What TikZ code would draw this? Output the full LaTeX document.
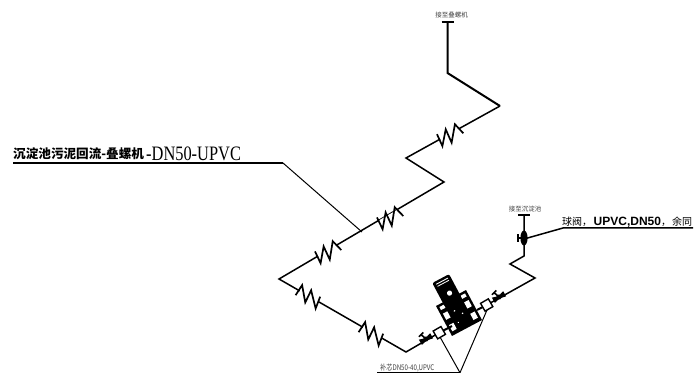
\documentclass[tikz,border=0pt]{standalone}
\usepackage{fontspec}
\usepackage{graphicx}
\setmainfont{Liberation Serif}
\newfontfamily\cjk{Noto Sans CJK SC}
\newfontfamily\hv{Liberation Sans}
\tikzset{
  pipe/.style={line width=1.5pt,line join=miter},
  heavypipe/.style={line width=2pt,line join=miter},
  flexline/.style={line width=1.7pt,line join=miter},
  leader/.style={line width=1pt},
  endcap/.style={line width=2.4pt},
  flange/.style={line width=1.4pt,fill=white},
  lbl/.style={inner sep=0pt,anchor=base west},
}
\newcommand{\flexup}[3]{%
  \begin{scope}[shift={(#1,#2)},rotate=#3]
    \fill[white] (-10.5,-3.5) rectangle (11,3.5);
    \draw[flexline] (-11,-7) -- (-12,6) -- (-1,-7) -- (-2.3,7.5) -- (9.5,-7) -- (12.5,5);
  \end{scope}}
\newcommand{\flexdown}[3]{%
  \begin{scope}[shift={(#1,#2)},rotate=#3]
    \fill[white] (-10.5,-3.5) rectangle (11,3.5);
    \draw[flexline] (-12,6) -- (-11.4,-6) -- (0,7.5) -- (-1,-6) -- (12,7.5) -- (10,-5);
  \end{scope}}
\newcommand{\valve}[3]{%
  \begin{scope}[shift={(#1,#2)},rotate=#3]
    \fill (-6.5,-3) -- (0,-1) -- (6.5,-3) -- (6.5,3) -- (0,1.5) -- (-6.5,3) -- cycle;
    \fill (0,0) circle (2.6);
    \draw[line width=1.6pt] (0,0) -- (-2,-6);
    \draw[line width=1.5pt] (-5,-5.5) -- (1,-7);
  \end{scope}}
\begin{document}
\begin{tikzpicture}[x=1pt,y=-1pt]
\useasboundingbox (0,0) rectangle (696,374);
\fill[white] (0,0) rectangle (696,374);
% route points
\coordinate (topcap) at (447.5,22);
\coordinate (a) at (447.5,73);
\coordinate (b) at (500,106);
\coordinate (c) at (406,158);
\coordinate (d) at (444,182);
\coordinate (e) at (279,279);
\coordinate (f) at (406,352);
\coordinate (pl) at (439.3,332.7);
\coordinate (pr) at (486.7,305);
\coordinate (g) at (535,278);
\coordinate (h) at (510,264);
\coordinate (i) at (524,256);
\coordinate (j) at (524,215);
\draw[heavypipe] (topcap) -- (a) -- (b);
\draw[pipe] (b) -- (c) -- (d) -- (e) -- (f) -- (pl);
\draw[pipe] (pr) -- (g) -- (h) -- (i) -- (j);
\draw[endcap] (441.5,22) -- (453.5,22);
\draw[endcap] (518,215) -- (529.5,215);
% flexible joints
\flexup{450}{135}{29}
\flexup{390}{218}{30}
\flexup{328}{252}{30}
\flexdown{309}{296}{-30}
\flexdown{372}{333}{-30}
% valves
\valve{426}{339}{30}
\valve{499}{297}{30}
\begin{scope}[shift={(524,238)}]
  \fill (0,0) ellipse (3.6 and 7.5);
  \draw[line width=1.6pt] (0,0) -- (-6,0);
  \draw[line width=1.5pt] (-6,-3.5) -- (-6,3.5);
\end{scope}
% pump
\begin{scope}[shift={(459,313)},rotate=28]
  \fill (-17,-17) rectangle (17,17);
  \fill[white] (-14.5,-7) rectangle (-9.5,0);
  \fill[white] (9.5,-7) rectangle (14.5,0);
  \fill[white] (-14.5,6) rectangle (-9.5,13);
  \fill[white] (9.5,6) rectangle (14.5,13);
  \fill[white] (-14.5,-14.5) rectangle (-9.5,-11);
  \fill[white] (9.5,-14.5) rectangle (14.5,-11);
  \fill[rounded corners=2pt] (-9.5,-39) rectangle (9.5,-12);
  \fill[white] (-6.5,-36.5) rectangle (6.5,-35.6);
  \fill[white] (-6.5,-34) rectangle (6.5,-33.2);
  \fill[white] (1,-22) circle (2.6);
  \fill[white] (-3,-4) circle (0.9);
  \fill[white] (3,2) circle (0.9);
  \fill[white] (-5,8) circle (0.7);
\end{scope}
\draw[line width=2pt] (pl) -- (452,326);
\draw[line width=2pt] (pr) -- (477,310);
% flanges
\draw[flange,rotate around={30:(pl)}] (434.8,328.2) rectangle (443.8,337.2);
\draw[flange,rotate around={30:(pr)}] (482.2,300.5) rectangle (491.2,309.5);
% leaders
\coordinate (m1) at (13,163);
\coordinate (m2) at (283,163);
\coordinate (m3) at (362,232);
\draw[line width=1.4pt] (m1) -- (m2);
\draw[leader] (m2) -- (m3);
\coordinate (v1) at (524,239);
\coordinate (v2) at (563,228);
\coordinate (v3) at (693,228);
\draw[pipe] (v1) -- (v2) -- (v3);
\coordinate (l1) at (377,372.7);
\coordinate (l2) at (460,372.7);
\draw[pipe] (l1) -- (l2);
\draw[leader] (l2) -- (440,337);
\draw[leader] (l2) -- (487,310);
% labels
\node[lbl] (main) at (13,158.5) {\cjk\bfseries\fontsize{12.6}{12.6}\selectfont 沉淀池污泥回流-叠螺机};
\node[lbl] (mainb) at (146,160.5) {\scalebox{0.8}[1]{\fontsize{20.5}{20.5}\selectfont -DN50-UPVC}};
\node[lbl] (ball) at (562,225.5) {\cjk\fontsize{10}{10}\selectfont 球阀，\kern1.5pt\hv\bfseries\fontsize{12}{12}\selectfont UPVC,DN50\cjk\mdseries\fontsize{10}{10}\selectfont ，\kern1pt 余同};
\node[inner sep=0pt,text=black!75,anchor=base] (tcap) at (451.5,18) {\cjk\fontsize{6.5}{6.5}\selectfont 接至叠螺机};
\node[inner sep=0pt,text=black!75,anchor=base] (tpool) at (525,212) {\cjk\fontsize{6.5}{6.5}\selectfont 接至沉淀池};
\node[lbl,text=black!75] (red) at (380,370.5) {\scalebox{0.88}[1.1]{\cjk\fontsize{7}{7}\selectfont 补芯DN50-40,UPVC}};
\end{tikzpicture}
\end{document}
